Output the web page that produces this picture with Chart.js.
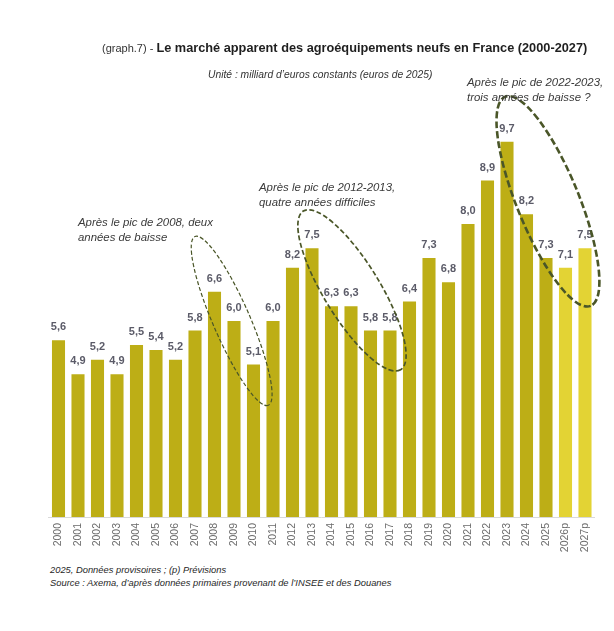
<!DOCTYPE html>
<html>
<head>
<meta charset="utf-8">
<script src="https://cdn.jsdelivr.net/npm/chart.js@4.4.1/dist/chart.umd.min.js"></script>
<style>
  html, body { margin:0; padding:0; background:#fff; width:614px; height:631px; overflow:hidden; font-family:"Liberation Sans", Arial, sans-serif; }
  #wrap { position:absolute; left:0; top:0; width:614px; height:562px; }
  .t { position:absolute; white-space:nowrap; }
  #title { left:102px; top:40px; font-size:11px; line-height:16px; color:#333; }
  #title b { font-size:12.75px; color:#1f1f1f; }
  #sub { left:208px; top:69px; font-size:10.3px; line-height:12px; font-style:italic; color:#333; }
  .ann { font-size:11.4px; line-height:14.5px; font-style:italic; color:#3a3a3a; }
  #foot { left:50px; top:564px; font-size:9.35px; line-height:13px; font-style:italic; color:#262626; }
</style>
</head>
<body>
<div id="wrap"><canvas id="c"></canvas></div>
<div class="t" id="title">(graph.7) - <b>Le marché apparent des agroéquipements neufs en France (2000-2027)</b></div>
<div class="t" id="sub">Unité : milliard d’euros constants (euros de 2025)</div>
<div class="t ann" style="left:467px; top:75px;">Après le pic de 2022-2023,<br>trois années de baisse ?</div>
<div class="t ann" style="left:259px; top:180px;">Après le pic de 2012-2013,<br>quatre années difficiles</div>
<div class="t ann" style="left:78px; top:215px;">Après le pic de 2008, deux<br>années de baisse</div>
<div class="t" id="foot">2025, Données provisoires ; (p) Prévisions<br>Source : Axema, d’après données primaires provenant de l’INSEE et des Douanes</div>
<script>
const categories = ["2000","2001","2002","2003","2004","2005","2006","2007","2008","2009","2010","2011","2012","2013","2014","2015","2016","2017","2018","2019","2020","2021","2022","2023","2024","2025","2026p","2027p"];
const values = [5.6,4.9,5.2,4.9,5.5,5.4,5.2,5.8,6.6,6.0,5.1,6.0,7.1,7.5,6.3,6.3,5.8,5.8,6.4,7.3,6.8,8.0,8.9,9.7,8.2,7.3,7.1,7.5];
const valueLabels = ["5,6","4,9","5,2","4,9","5,5","5,4","5,2","5,8","6,6","6,0","5,1","6,0","8,2","7,5","6,3","6,3","5,8","5,8","6,4","7,3","6,8","8,0","8,9","9,7","8,2","7,3","7,1","7,5"];
// ellipse annotations: centre (category index, value), half-axes in px, angle in degrees
const ellipses = [
  {cx:8.88, cy:6.0, rx:92, ry:18.5, angle:66.5, width:1.2, dash:[4,2.2]},
  {cx:15.05, cy:6.63, rx:93, ry:28, angle:58.5, width:1.7, dash:[5,2.5]},
  {cx:25.1, cy:8.47, rx:113, ry:31, angle:67.8, width:2.6, dash:[7,3]}
];
const barColor = "#BDAE16";
const forecastColor = "#E3D334";
const colors = categories.map(c => c.endsWith("p") ? forecastColor : barColor);

const labelPlugin = {
  id: "valLabels",
  afterDatasetsDraw(chart) {
    const ctx = chart.ctx;
    const meta = chart.getDatasetMeta(0);
    ctx.save();
    ctx.font = "bold 11px 'Liberation Sans', Arial, sans-serif";
    ctx.fillStyle = "#5b5b68";
    ctx.textAlign = "center";
    ctx.textBaseline = "middle";
    meta.data.forEach((bar, i) => {
      ctx.fillText(valueLabels[i], bar.x, bar.y - 13);
    });
    ctx.restore();
  },
  afterDraw(chart) {
    const ctx = chart.ctx;
    const xs = chart.scales.x, ys = chart.scales.y;
    ctx.save();
    ctx.strokeStyle = "#4a5628";
    ellipses.forEach(e => {
      ctx.lineWidth = e.width;
      ctx.setLineDash(e.dash);
      ctx.beginPath();
      ctx.ellipse(xs.getPixelForValue(e.cx), ys.getPixelForValue(e.cy), e.rx, e.ry, e.angle * Math.PI / 180, 0, Math.PI * 2);
      ctx.stroke();
    });
    ctx.restore();
  }
};

new Chart(document.getElementById("c"), {
  type: "bar",
  data: {
    labels: categories,
    datasets: [{ data: values, backgroundColor: colors, borderWidth: 0, barPercentage: 0.67, categoryPercentage: 1 }]
  },
  options: {
    responsive: true,
    maintainAspectRatio: false,
    animation: false,
    layout: { padding: { left: 48.75, right: 19.25, top: 103, bottom: 0 } },
    plugins: { legend: { display: false }, tooltip: { enabled: false } },
    scales: {
      y: { display: false, min: 1.95, max: 10.5 },
      x: {
        grid: { display: false, drawTicks: false },
        border: { display: true, color: "#d9d9d9", width: 1 },
        ticks: { minRotation: 90, maxRotation: 90, padding: 6, color: "#6b6b6b", font: { family: "'Liberation Sans', Arial, sans-serif", size: 10.5 } },
        afterFit: (scale) => { scale.height = 45; }
      }
    }
  },
  plugins: [labelPlugin]
});
</script>
</body>
</html>
